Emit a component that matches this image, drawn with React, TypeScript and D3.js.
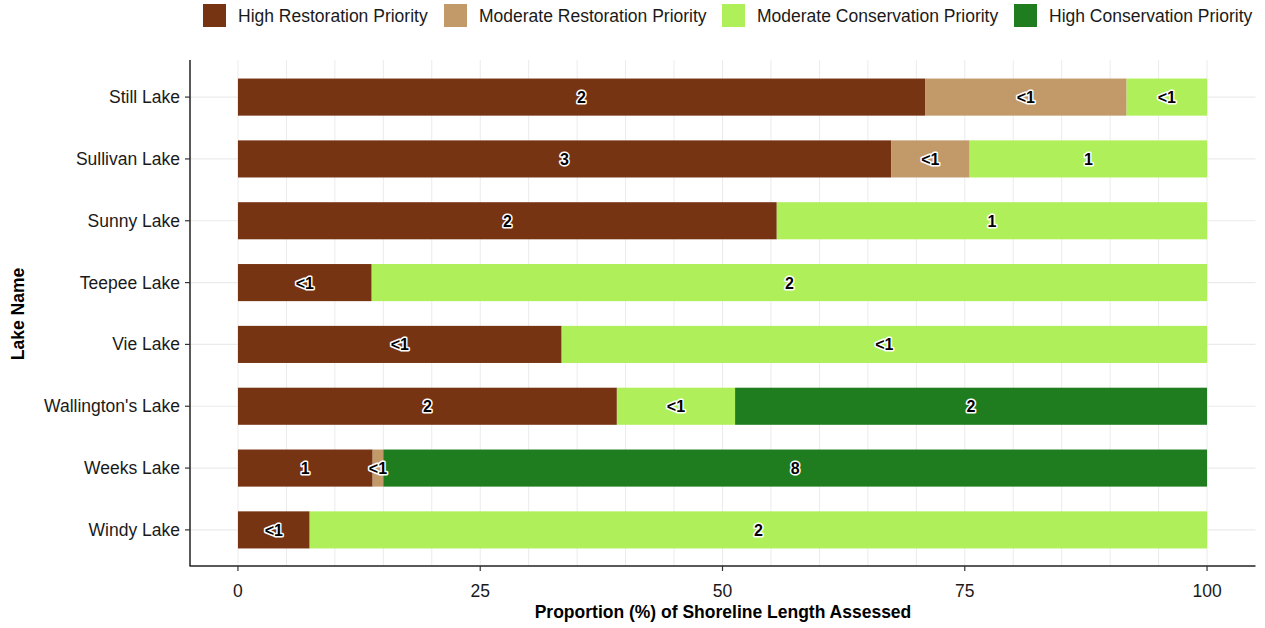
import React from "react";
import * as d3 from "d3";

const lakes = ["Still Lake", "Sullivan Lake", "Sunny Lake", "Teepee Lake", "Vie Lake", "Wallington's Lake", "Weeks Lake", "Windy Lake"];
const categories = ["High Restoration Priority", "Moderate Restoration Priority", "Moderate Conservation Priority", "High Conservation Priority"];
const colors = ["#773413", "#C29A6A", "#AFEF59", "#1F7D1F"];
// proportions (%) per category for each lake
const highRestoration = [70.9, 67.4, 55.6, 13.8, 33.4, 39.1, 13.9, 7.4];
const moderateRestoration = [20.8, 8.1, 0, 0, 0, 0, 1.1, 0];
const moderateConservation = [8.3, 24.5, 44.4, 86.2, 66.6, 12.2, 0, 92.6];
const highConservation = [0, 0, 0, 0, 0, 48.7, 85.0, 0];
// count labels per category
const labelsHR = ["2", "3", "2", "<1", "<1", "2", "1", "<1"];
const labelsMR = ["<1", "<1", "", "", "", "", "<1", ""];
const labelsMC = ["<1", "1", "1", "2", "<1", "<1", "", "2"];
const labelsHC = ["", "", "", "", "", "2", "8", ""];
const xTicks = [0, 25, 50, 75, 100];

const W = 1265, H = 628;
const FONT = "'Liberation Sans', Arial, Helvetica, sans-serif";

export default function App() {
  const x = d3.scaleLinear().domain([-5, 105]).range([189.5, 1255.5]);
  const y = d3.scalePoint<string>().domain(lakes).range([60, 567]).padding(0.6);
  const step = y.step();
  const barH = step * 0.6;
  const series = [highRestoration, moderateRestoration, moderateConservation, highConservation];
  const labels = [labelsHR, labelsMR, labelsMC, labelsHC];
  const minor = d3.range(0, 101, 5);

  const segs: any[] = [];
  lakes.forEach((lake, i) => {
    let acc = 0;
    series.forEach((s, k) => {
      const v = s[i];
      if (v > 0) {
        segs.push({ lake, k, x0: acc, x1: acc + v, label: labels[k][i] });
      }
      acc += v;
    });
  });

  const legendX = [203, 444, 722, 1014];

  return (
    <svg width={W} height={H} style={{ position: "absolute", left: 0, top: 0, fontFamily: FONT }}>
      <rect x={0} y={0} width={W} height={H} fill="white" />
      {/* grid */}
      {minor.map((t) => (
        <line key={"gx" + t} x1={x(t)} x2={x(t)} y1={60} y2={566} stroke="#ebebeb" strokeWidth={1} />
      ))}
      {lakes.map((l) => (
        <line key={"gy" + l} x1={190} x2={1255.5} y1={y(l)} y2={y(l)} stroke="#ebebeb" strokeWidth={1.2} />
      ))}
      {/* bars */}
      {segs.map((s, j) => (
        <rect key={"b" + j} x={x(s.x0)} width={x(s.x1) - x(s.x0)} y={(y(s.lake) as number) - barH / 2} height={barH} fill={colors[s.k]} />
      ))}
      {/* labels */}
      {segs.filter((s) => s.label).map((s, j) => (
        <text key={"t" + j} x={x((s.x0 + s.x1) / 2)} y={(y(s.lake) as number) + 6} textAnchor="middle" fontSize={16} fontWeight="bold"
          fill="black" stroke="white" strokeWidth={3} strokeLinejoin="round" style={{ paintOrder: "stroke" }}>{s.label}</text>
      ))}
      {/* axes */}
      <line x1={190} x2={190} y1={60} y2={566} stroke="#222" strokeWidth={1.5} />
      <line x1={189.5} x2={1255.5} y1={566} y2={566} stroke="#222" strokeWidth={1.5} />
      {lakes.map((l) => (
        <g key={"yt" + l}>
          <line x1={185} x2={190} y1={y(l)} y2={y(l)} stroke="#333" strokeWidth={1.2} />
          <text x={180} y={(y(l) as number) + 6} textAnchor="end" fontSize={17.5} fill="#1a1a1a">{l}</text>
        </g>
      ))}
      {xTicks.map((t) => (
        <g key={"xt" + t}>
          <line x1={x(t)} x2={x(t)} y1={566} y2={571} stroke="#333" strokeWidth={1.2} />
          <text x={x(t)} y={597} textAnchor="middle" fontSize={17.5} fill="#1a1a1a">{t}</text>
        </g>
      ))}
      <text x={723} y={618} textAnchor="middle" fontSize={17.5} fontWeight="bold" fill="black">Proportion (%) of Shoreline Length Assessed</text>
      <text transform={`translate(24,${314}) rotate(-90)`} textAnchor="middle" fontSize={17.5} fontWeight="bold" fill="black">Lake Name</text>
      {/* legend */}
      {categories.map((c, k) => (
        <g key={"lg" + k}>
          <rect x={legendX[k]} y={4} width={23} height={23} fill={colors[k]} />
          <text x={legendX[k] + 35} y={22} fontSize={17.5} fill="#1a1a1a">{c}</text>
        </g>
      ))}
    </svg>
  );
}
